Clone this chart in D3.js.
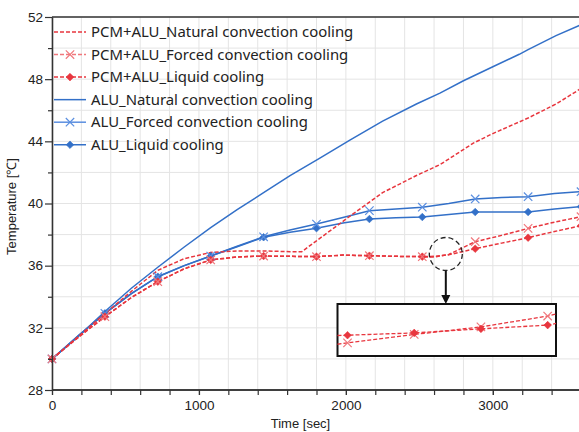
<!DOCTYPE html>
<html><head><meta charset="utf-8">
<script src="https://cdn.jsdelivr.net/npm/d3@7/dist/d3.min.js"></script>
<style>
html,body{margin:0;padding:0;background:#fff;}
svg{display:block;}
</style></head>
<body><svg id="chart" width="579" height="432"></svg>
<script>
// ---------- data ----------
const seriesNames = [
  "PCM+ALU_Natural convection cooling",
  "PCM+ALU_Forced convection cooling",
  "PCM+ALU_Liquid cooling",
  "ALU_Natural convection cooling",
  "ALU_Forced convection cooling",
  "ALU_Liquid cooling"
];
const pcmNaturalT = [0,180,360,540,720,900,1080,1260,1440,1620,1700,1800,2030,2250,2480,2640,2870,3000,3240,3430,3600];
const pcmNaturalV = [30,31.45,32.9,34.35,35.7,36.45,36.85,36.95,36.95,36.9,36.9,37.6,39.2,40.7,41.8,42.5,43.9,44.5,45.5,46.4,47.4];

const pcmForcedT = [0,180,360,540,720,900,1080,1260,1440,1620,1800,1980,2160,2340,2520,2600,2700,2880,3060,3240,3420,3600];
const pcmForcedV = [30,31.4,32.72,33.95,34.97,35.8,36.37,36.56,36.62,36.6,36.58,36.68,36.64,36.6,36.58,36.55,36.72,37.54,37.95,38.4,38.8,39.15];

const pcmLiquidT = [0,180,360,540,720,900,1080,1260,1440,1620,1800,1980,2160,2340,2520,2600,2700,2880,3060,3240,3420,3600];
const pcmLiquidV = [30,31.4,32.72,33.95,34.97,35.8,36.37,36.56,36.62,36.6,36.58,36.68,36.64,36.6,36.58,36.6,36.7,37.09,37.45,37.8,38.2,38.57];

const aluNaturalT = [0,180,360,540,720,900,1080,1260,1440,1620,1820,2030,2250,2480,2640,2800,3000,3180,3240,3430,3600];
const aluNaturalV = [30,31.45,33.05,34.55,35.9,37.2,38.45,39.6,40.7,41.8,42.9,44.1,45.3,46.4,47.1,47.9,48.8,49.6,49.9,50.8,51.5];

const aluForcedT = [0,180,360,540,720,900,1080,1260,1440,1620,1800,1980,2160,2340,2520,2700,2880,3060,3240,3420,3600];
const aluForcedV = [30,31.5,32.93,34.2,35.29,36.0,36.62,37.25,37.86,38.3,38.68,39.1,39.54,39.65,39.76,40.0,40.29,40.38,40.44,40.65,40.76];

const aluLiquidT = [0,180,360,540,720,900,1080,1260,1440,1620,1800,1980,2160,2340,2520,2700,2880,3060,3240,3420,3600];
const aluLiquidV = [30,31.5,32.93,34.2,35.29,36.0,36.62,37.22,37.83,38.15,38.41,38.75,39.0,39.08,39.13,39.3,39.45,39.45,39.45,39.65,39.8];

const markerTimes = [0,360,720,1080,1440,1800,2160,2520,2880,3240,3600];

// inset (zoom of the dashed circle region)
const insetT = [2594,2600,2640,2680,2720,2725];
const insetLiquidV = [36.597,36.60,36.622,36.661,36.697,36.713];
const insetForcedV = [36.513,36.526,36.607,36.68,36.784,36.803];
const insetMarkerT = [2600,2640,2680,2720];
const circleCenter = {t:2680, v:36.75};

const xMajorTicks = [0,1000,2000,3000];
const xMinorTicks = d3.range(0,3601,200);
const yMajorTicks = [28,32,36,40,44,48,52];
const yMinorTicks = [30,34,38,42,46,50];
const yGrid = d3.range(28,53,2);

// ---------- layout ----------
const svg = d3.select("#chart");
const W = 579, H = 432;
const L = 52, R = 581, T = 17, B = 390;
const x = d3.scaleLinear().domain([0,3600]).range([L,R]);
const y = d3.scaleLinear().domain([28,52]).range([B,T]);

const BLUE = "#3370c8", BLUE_L = "#5b8fe0", RED = "#e8363e", RED_L = "#f0777c";
const axisFont = "'Liberation Sans', Arial, sans-serif";
const legendFont = "'Noto Sans', 'Open Sans', sans-serif";

// grid
const grid = svg.append("g");
grid.selectAll("line.vg").data(xMinorTicks).enter().append("line")
  .attr("x1", d=>x(d)).attr("x2", d=>x(d)).attr("y1", T).attr("y2", B)
  .attr("stroke", "#e4e4e4").attr("stroke-width", 1);
grid.selectAll("line.hg").data(yGrid).enter().append("line")
  .attr("x1", L).attr("x2", W).attr("y1", d=>y(d)).attr("y2", d=>y(d))
  .attr("stroke", "#e4e4e4").attr("stroke-width", 1);

svg.append("defs").append("clipPath").attr("id","clip")
  .append("rect").attr("x", L).attr("y", T-10).attr("width", W-L+10).attr("height", B-T+10);

const line = d3.line().x(d=>x(d[0])).y(d=>y(d[1]));
function zip(a,b){ return a.map((t,i)=>[t,b[i]]); }

const series = [
  {name:seriesNames[0], t:pcmNaturalT, v:pcmNaturalV, color:RED, dash:"4,2", marker:null},
  {name:seriesNames[1], t:pcmForcedT, v:pcmForcedV, color:RED, dash:"4,2", marker:"x", mcolor:RED_L},
  {name:seriesNames[2], t:pcmLiquidT, v:pcmLiquidV, color:RED, dash:"4,2", marker:"d", mcolor:RED},
  {name:seriesNames[3], t:aluNaturalT, v:aluNaturalV, color:BLUE, dash:null, marker:null},
  {name:seriesNames[4], t:aluForcedT, v:aluForcedV, color:BLUE, dash:null, marker:"x", mcolor:BLUE_L},
  {name:seriesNames[5], t:aluLiquidT, v:aluLiquidV, color:BLUE, dash:null, marker:"d", mcolor:BLUE}
];

function drawMarker(g, type, cx, cy, color, s){
  if(type==="d"){
    const r = s||3.8;
    g.append("path").attr("d", `M${cx},${cy-r}L${cx+r},${cy}L${cx},${cy+r}L${cx-r},${cy}Z`)
      .attr("fill", color).attr("stroke", color).attr("stroke-width", 0.6);
  } else if(type==="x"){
    const r = s||4.2;
    g.append("path").attr("d", `M${cx-r},${cy-r}L${cx+r},${cy+r}M${cx-r},${cy+r}L${cx+r},${cy-r}`)
      .attr("fill","none").attr("stroke", color).attr("stroke-width", 1.2);
  }
}

const plot = svg.append("g").attr("clip-path","url(#clip)");
const order = [3,5,4,0,2,1];
order.forEach(i=>{
  const s = series[i];
  const data = zip(s.t, s.v);
  plot.append("path").attr("d", line(data)).attr("fill","none")
    .attr("stroke", s.color).attr("stroke-width", 1.5)
    .attr("stroke-dasharray", s.dash);
});
const mg = svg.append("g");
order.forEach(i=>{
  const s = series[i];
  if(!s.marker) return;
  markerTimes.forEach(mt=>{
    const k = s.t.indexOf(mt);
    if(k<0) return;
    drawMarker(mg, s.marker, x(mt), y(s.v[k]), s.mcolor);
  });
});

// axes
const axG = svg.append("g").attr("font-family", axisFont);
const xAxisMaj = d3.axisBottom(x).tickValues(xMajorTicks).tickSize(5).tickSizeOuter(0).tickPadding(5).tickFormat(d3.format("d"));
const xAxisMin = d3.axisBottom(x).tickValues(xMinorTicks).tickSize(5).tickSizeOuter(0).tickFormat("");
const gx2 = axG.append("g").attr("transform",`translate(0,${B})`).call(xAxisMin);
const gx = axG.append("g").attr("transform",`translate(0,${B})`).call(xAxisMaj);
const yAxisMaj = d3.axisLeft(y).tickValues(yMajorTicks).tickSize(7).tickSizeOuter(0).tickPadding(2).tickFormat(d3.format("d"));
const yAxisMin = d3.axisLeft(y).tickValues(yMinorTicks).tickSize(4).tickSizeOuter(0).tickFormat("");
const gy2 = axG.append("g").attr("transform",`translate(${L},0)`).call(yAxisMin);
const gy = axG.append("g").attr("transform",`translate(${L},0)`).call(yAxisMaj);
axG.selectAll(".domain").attr("stroke","#333").attr("stroke-width",1.3);
axG.selectAll(".tick line").attr("stroke","#333").attr("stroke-width",1.2);
axG.selectAll(".tick text").attr("font-size", 13.5).attr("fill","#222").attr("font-family", axisFont);
gx2.select(".domain").attr("d", `M${L},0H${W}`);
gx.select(".domain").attr("d", `M${L},0H${W}`);
svg.append("line").attr("x1", L).attr("x2", W).attr("y1", T).attr("y2", T)
  .attr("stroke","#333").attr("stroke-width",1.3);

// axis titles
svg.append("text").attr("x", (L+R)/2 - 16).attr("y", 428).attr("text-anchor","middle")
  .attr("font-family", axisFont).attr("font-size", 13).attr("fill","#222").text("Time [sec]");
svg.append("text").attr("transform", `translate(16,${(T+B)/2 + 3}) rotate(-90)`).attr("text-anchor","middle")
  .attr("font-family", axisFont).attr("font-size", 13).attr("fill","#222").text("Temperature [℃]");

// legend
const lg = svg.append("g");
series.forEach((s,i)=>{
  const cy = 32 + i*22.55;
  lg.append("line").attr("x1",54).attr("x2",86).attr("y1",cy).attr("y2",cy)
    .attr("stroke", s.marker==="x" ? (s.color===RED?RED_L:BLUE_L) : s.color)
    .attr("stroke-width",1.5).attr("stroke-dasharray", s.dash);
  if(s.marker) drawMarker(lg, s.marker, 70, cy, s.mcolor);
  lg.append("text").attr("x", 91).attr("y", cy+5.2).attr("font-family", legendFont)
    .attr("font-size", 14.9).attr("fill","#222").text(s.name);
});

// dashed circle + arrow
const cx = x(circleCenter.t), ccy = y(circleCenter.v);
svg.append("circle").attr("cx", cx).attr("cy", ccy).attr("r", 16.5)
  .attr("fill","none").attr("stroke","#222").attr("stroke-width",1.3).attr("stroke-dasharray","5,3");

// inset
const inL = 337.5, inR = 556, inT = 304, inB = 356;
const ix = d3.scaleLinear().domain([2594,2725]).range([inL, inR]);
const iy = d3.scaleLinear().domain([36.4,36.9]).range([inB, inT]);
svg.append("line").attr("x1", cx).attr("x2", cx).attr("y1", ccy+17).attr("y2", inT-8)
  .attr("stroke","#111").attr("stroke-width",2);
svg.append("path").attr("d", `M${cx-4.5},${inT-9}L${cx+4.5},${inT-9}L${cx},${inT}Z`).attr("fill","#111");
svg.append("rect").attr("x", inL).attr("y", inT).attr("width", inR-inL).attr("height", inB-inT)
  .attr("fill","#fff").attr("stroke","#111").attr("stroke-width",2);
const ig = svg.append("g");
const iline = d3.line().x(d=>ix(d[0])).y(d=>iy(d[1]));
[[insetForcedV,"x",RED_L],[insetLiquidV,"d",RED]].forEach(([vals,m,mc])=>{
  ig.append("path").attr("d", iline(zip(insetT, vals))).attr("fill","none")
    .attr("stroke", RED).attr("stroke-width",1.3).attr("stroke-dasharray","4,2");
  insetMarkerT.forEach(mt=>{
    const k = insetT.indexOf(mt);
    drawMarker(ig, m, ix(mt), iy(vals[k]), mc);
  });
});
</script>
</body></html>
